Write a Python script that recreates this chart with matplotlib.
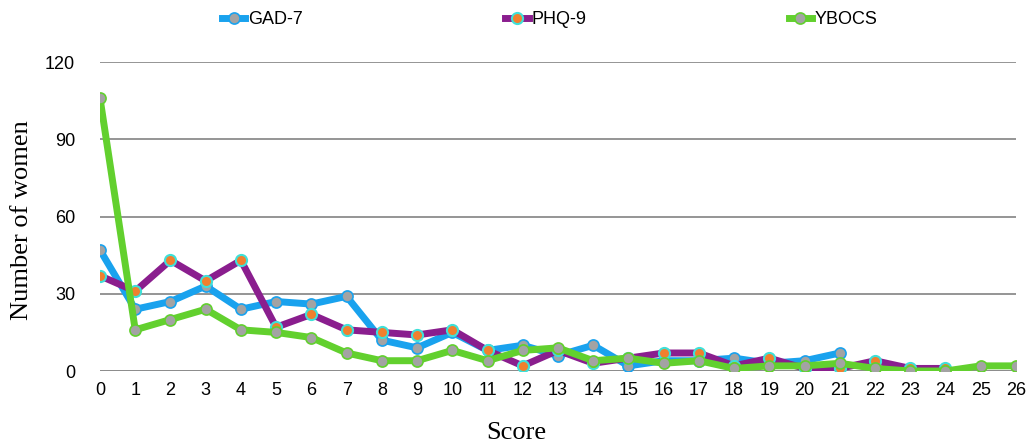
import matplotlib
matplotlib.use("Agg")
import matplotlib.pyplot as plt

scores = list(range(27))
gad7 = [47, 24, 27, 33, 24, 27, 26, 29, 12, 9, 15, 8, 10, 6, 10, 2, 4, 4, 5, 3, 4, 7]
phq9 = [37, 31, 43, 35, 43, 17, 22, 16, 15, 14, 16, 8, 2, 8, 3, 5, 7, 7, 2, 5, 1, 1, 4, 1, 1]
ybocs = [106, 16, 20, 24, 16, 15, 13, 7, 4, 4, 8, 4, 8, 9, 4, 5, 3, 4, 1, 2, 2, 3, 1, 0, 0, 2, 2]
yticks = [0, 30, 60, 90, 120]

tick_font = ['Liberation Sans', 'DejaVu Sans']
serif_font = ['Liberation Serif', 'DejaVu Serif']

fig = plt.figure(figsize=(10.33, 4.47), dpi=100)
ax = fig.add_axes([0.0968, 0.17, 0.8867, 0.691])

ax.plot(scores[:len(gad7)], gad7, color='#19a2ee', lw=5, marker='o', ms=8,
        mfc='#a3a3a3', mec='#19a2ee', mew=1.2, label='GAD-7', zorder=3,
        solid_joinstyle='round')
ax.plot(scores[:len(phq9)], phq9, color='#8a1e8e', lw=5, marker='o', ms=8,
        mfc='#f0802e', mec='#3fe0d8', mew=1.5, label='PHQ-9', zorder=4,
        solid_joinstyle='round')
ax.plot(scores[:len(ybocs)], ybocs, color='#62d02e', lw=5, marker='o', ms=8,
        mfc='#a3a3a3', mec='#62d02e', mew=1.2, label='YBOCS', zorder=5,
        solid_joinstyle='round')

ax.set_xlim(0, 26)
ax.set_ylim(0, 120)
ax.set_yticks(yticks)
ax.set_xticks(scores)
for s in ax.spines.values():
    s.set_visible(False)
ax.grid(axis='y', color='#8c8c8c', lw=1.3, zorder=0)
ax.axhline(0, color='#777777', lw=1.8, zorder=1)
ax.tick_params(length=0, pad=8)
for lab in ax.get_xticklabels() + ax.get_yticklabels():
    lab.set_fontfamily(tick_font)
    lab.set_fontsize(13)
ax.tick_params(axis='y', pad=18)

ax.set_xlabel('Score', family=serif_font, fontsize=19)
ax.set_ylabel('Number of women', family=serif_font, fontsize=19)
ax.xaxis.set_label_coords(0.454, -0.165)
ax.yaxis.set_label_coords(-0.073, 0.49)

leg = fig.legend(loc='upper left', bbox_to_anchor=(0.2149, 0.975), ncol=3,
                 frameon=False, prop={'family': tick_font, 'size': 13},
                 handlelength=1.3, handletextpad=0.15, columnspacing=11.2,
                 borderpad=0, borderaxespad=0)

fig.savefig('out.png', dpi=100)
